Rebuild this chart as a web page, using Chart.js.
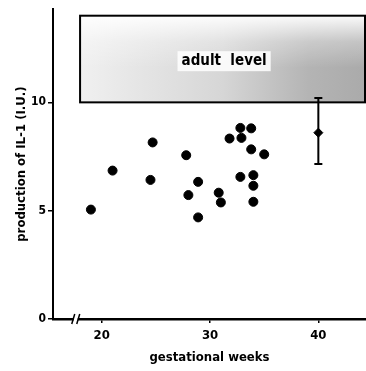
<!DOCTYPE html>
<html>
<head>
<meta charset="utf-8">
<script src="https://cdn.jsdelivr.net/npm/chart.js@4"></script>
<style>
  html, body { margin: 0; padding: 0; background: #fff; }
  #wrap { width: 366px; height: 371px; }
</style>
</head>
<body>
<div id="wrap"><canvas id="il1Chart"></canvas></div>
<script>
// fetal samples: gestational week vs IL-1 production
const weeks = [19, 21, 24.7, 24.5, 27.8, 28, 28.9, 28.9, 30.8, 31, 31.8, 32.8, 32.9, 33.8, 33.8, 35, 32.8, 34, 34, 34];
const il1 = [5.05, 6.85, 8.15, 6.42, 7.56, 5.72, 6.33, 4.69, 5.83, 5.38, 8.33, 8.82, 8.36, 8.8, 7.83, 7.6, 6.56, 6.64, 6.15, 5.41];

// term value (mean with range)
const termWeek = [40];
const termMean = [8.6];
const termRange = [7.15, 10.2];

// adult level band
const bandWeeks = [18, 44.4];
const bandLevels = [10, 14];
const bandLabel = "adult  level";

const xTicks = [20, 30, 40];
const yTicks = [0, 5, 10];
const breakWeek = 17.6;

const FONT = "'DejaVu Sans Condensed', 'Liberation Sans', Arial, sans-serif";

const overlay = {
  id: "overlay",
  beforeDatasetsDraw(chart) {
    const { ctx, scales: { x, y } } = chart;
    const l = x.getPixelForValue(bandWeeks[0]);
    const r = x.getPixelForValue(bandWeeks[1]);
    const t = y.getPixelForValue(bandLevels[1]);
    const b = y.getPixelForValue(bandLevels[0]);
    ctx.save();
    const g = ctx.createLinearGradient(l, 0, r, 0);
    g.addColorStop(0, "#f0f0f0");
    g.addColorStop(0.5, "#d6d6d6");
    g.addColorStop(0.8, "#b4b4b4");
    g.addColorStop(1, "#aaaaaa");
    ctx.fillStyle = g;
    ctx.fillRect(l, t, r - l, b - t);
    // lighter strip along the top edge
    const v = ctx.createLinearGradient(0, t, 0, b);
    v.addColorStop(0, "rgba(255,255,255,0.95)");
    v.addColorStop(0.3, "rgba(255,255,255,0.3)");
    v.addColorStop(0.6, "rgba(255,255,255,0)");
    ctx.fillStyle = v;
    ctx.fillRect(l, t, r - l, b - t);
    ctx.strokeStyle = "#000";
    ctx.lineWidth = 2;
    ctx.strokeRect(l, t, r - l - 1, b - t);

    ctx.font = "bold 15px " + FONT;
    ctx.textAlign = "center";
    ctx.textBaseline = "middle";
    const tx = x.getPixelForValue(31.3), ty = y.getPixelForValue(11.9);
    const w = ctx.measureText(bandLabel).width;
    ctx.fillStyle = "rgba(255,255,255,0.85)";
    ctx.fillRect(tx - w / 2 - 4, ty - 10, w + 8, 20);
    ctx.fillStyle = "#000";
    ctx.fillText(bandLabel, tx, ty);

    // range bar for term value
    const ex = x.getPixelForValue(termWeek[0]);
    const e1 = y.getPixelForValue(termRange[0]);
    const e2 = y.getPixelForValue(termRange[1]);
    ctx.beginPath();
    ctx.lineWidth = 2;
    ctx.moveTo(ex, e1); ctx.lineTo(ex, e2);
    ctx.moveTo(ex - 4, e1); ctx.lineTo(ex + 4, e1);
    ctx.moveTo(ex - 4, e2); ctx.lineTo(ex + 4, e2);
    ctx.stroke();
    ctx.restore();
  },
  afterDatasetsDraw(chart) {
    const { ctx, scales: { x, y } } = chart;
    const bx = x.getPixelForValue(breakWeek);
    const by = y.getPixelForValue(0);
    ctx.save();
    ctx.fillStyle = "#fff";
    ctx.fillRect(bx - 2, by - 2, 4, 4);
    ctx.strokeStyle = "#000";
    ctx.lineWidth = 1.5;
    ctx.beginPath();
    ctx.moveTo(bx - 4, by + 5); ctx.lineTo(bx - 1, by - 5);
    ctx.moveTo(bx + 1, by + 5); ctx.lineTo(bx + 4, by - 5);
    ctx.stroke();
    ctx.restore();
  }
};

new Chart(document.getElementById("il1Chart"), {
  type: "scatter",
  data: {
    datasets: [
      {
        label: "fetal",
        data: weeks.map((w, i) => ({ x: w, y: il1[i] })),
        backgroundColor: "#000",
        borderColor: "#000",
        pointRadius: 4.5,
        pointHoverRadius: 4.5
      },
      {
        label: "term",
        data: termWeek.map((w, i) => ({ x: w, y: termMean[i] })),
        backgroundColor: "#000",
        borderColor: "#000",
        pointStyle: "rectRot",
        pointRadius: 4.5,
        pointHoverRadius: 4.5
      }
    ]
  },
  options: {
    responsive: true,
    maintainAspectRatio: false,
    animation: false,
    clip: false,
    layout: { autoPadding: false, padding: { top: 8, left: 0, right: 0, bottom: 0 } },
    plugins: { legend: { display: false }, tooltip: { enabled: false } },
    scales: {
      x: {
        type: "linear",
        min: 15.5,
        max: 44.4,
        afterBuildTicks: s => { s.ticks = xTicks.map(v => ({ value: v })); },
        afterFit: s => { s.height = 52; },
        border: { display: true, color: "#000", width: 2.5 },
        grid: { drawOnChartArea: false, drawTicks: true, tickLength: 4, color: "#000", lineWidth: 1.5 },
        ticks: { color: "#000", padding: 5, font: { family: FONT, size: 13, weight: "bold" } },
        title: {
          display: true,
          text: "gestational weeks",
          color: "#000",
          padding: { top: 0, bottom: 6 },
          font: { family: FONT, size: 13, weight: "bold" }
        }
      },
      y: {
        min: 0,
        max: 14.3,
        afterBuildTicks: s => { s.ticks = yTicks.map(v => ({ value: v })); },
        afterFit: s => { s.width = 53; },
        border: { display: true, color: "#000", width: 2 },
        grid: { drawOnChartArea: false, drawTicks: true, tickLength: 5, color: "#000", lineWidth: 1.5 },
        ticks: { color: "#000", padding: 2, font: { family: FONT, size: 12, weight: "bold" } },
        title: {
          display: true,
          text: "production of IL-1 (I.U.)",
          color: "#000",
          padding: { top: 14, bottom: 0 },
          font: { family: FONT, size: 13, weight: "bold" }
        }
      }
    }
  },
  plugins: [overlay]
});
</script>
</body>
</html>
